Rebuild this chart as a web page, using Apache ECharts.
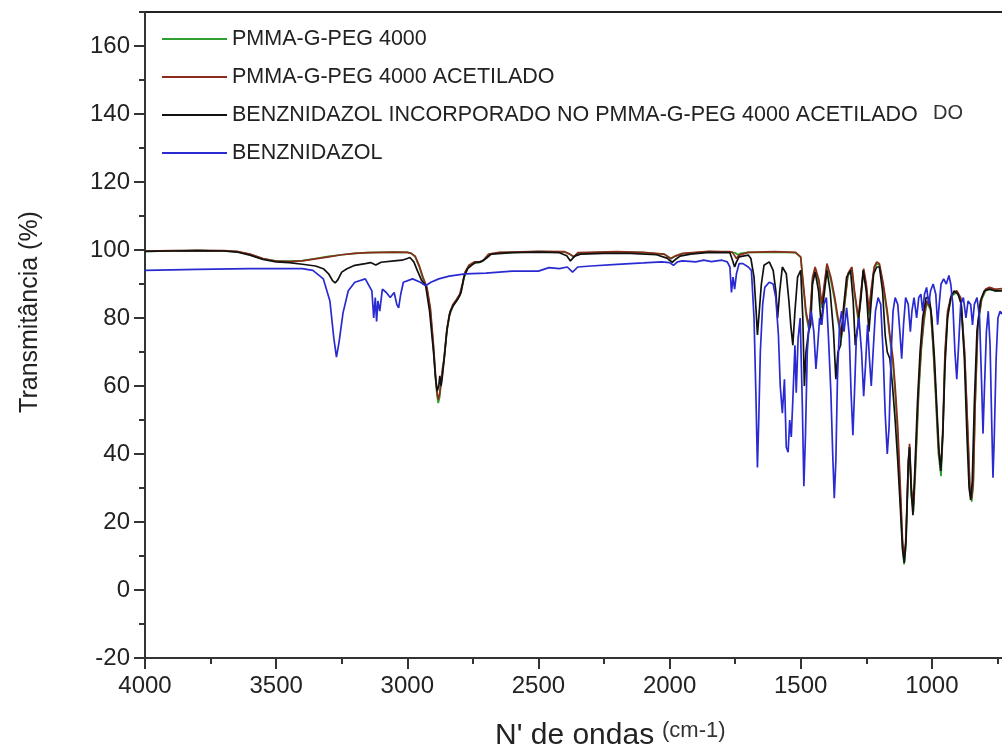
<!DOCTYPE html>
<html><head><meta charset="utf-8">
<script src="https://cdn.jsdelivr.net/npm/echarts@6/dist/echarts.min.js"></script>
<style>html,body{margin:0;padding:0;background:#fff}#c{width:1002px;height:748px}</style>
</head><body><div id="c"></div>
<script>
const seriesNames = ['PMMA-G-PEG 4000','PMMA-G-PEG 4000 ACETILADO','BENZNIDAZOL INCORPORADO NO PMMA-G-PEG 4000 ACETILADO','BENZNIDAZOL'];
const xTicks = [500,1000,1500,2000,2500,3000,3500,4000];
const yTicks = [-20,0,20,40,60,80,100,120,140,160];

const greenWn = [4000,3900,3800,3700,3650,3600,3550,3500,3450,3400,3350,3300,3250,3200,3150,3100,3050,3000,2985,2970,2955,2940,2925,2912,2900,2893,2887,2882,2877,2872,2866,2860,2850,2840,2826,2812,2800,2790,2780,2765,2745,2725,2710,2690,2650,2600,2500,2400,2380,2365,2350,2200,2100,2020,1995,1980,1950,1850,1800,
1770,1750,1740,1730,1700,1600,1520,1500,1490,1480,1470,1465,1455,1445,1430,1420,1410,1400,1385,1370,1360,1345,1335,1320,1305,1295,1280,1270,1260,1250,1240,1232,1220,1210,1200,1185,1170,1160,1148,1140,1130,1120,1112,1106,1100,1090,1085,1078,1070,1062,1050,1040,1030,1020,1005,995,985,975,965,958,950,940,925,905,890,875,862,855,848,842,835,825,810,795,780,760,750,700];
const greenT = [99.6,99.7,99.8,99.7,99.5,98.7,97.4,96.8,96.7,96.9,97.5,98.1,98.6,99,99.2,99.3,99.4,99.3,99,98,95.2,91.5,88.5,82,71,63,57.5,55,56.5,60,64,67.5,75.5,80.5,83.5,85,86.5,89.5,93,95.2,96.3,96.3,96.8,98.6,99.2,99.3,99.5,99.4,98.7,97.9,99.1,99.4,99.2,98.7,97.4,98.1,98.9,99.5,99.4,
99.4,99.2,98.6,99,99.3,99.4,99.2,97.8,89,81,77,79,91,94.5,90,83,89,95.5,91,85,80,74,82,92.5,94.5,87,79,87,94,89,81,87,94.5,96,95.5,89,81,74,66,58,45,27,13,7.5,12,34,42,28,23,36,58,71,79,84.5,82.5,71,56,40,33.5,46,68,81,86.5,87.5,85.5,69,44,29,26,31,54,77,85.5,88,88.5,88,88,88.5];

const brownWn = [4000,3900,3800,3700,3650,3600,3550,3500,3450,3400,3350,3300,3250,3200,3150,3100,3050,3000,2985,2970,2955,2940,2925,2912,2900,2893,2887,2882,2877,2872,2866,2860,2850,2840,2826,2812,2800,2790,2780,2765,2745,2725,2710,2690,2650,2600,2500,2400,2380,2365,2350,2200,2100,2020,1995,1980,1950,1850,1800,
1770,1760,1745,1735,1700,1600,1520,1500,1490,1480,1470,1465,1455,1445,1430,1420,1410,1400,1385,1370,1360,1345,1335,1320,1305,1295,1280,1270,1260,1250,1240,1232,1220,1210,1200,1185,1170,1160,1148,1140,1130,1120,1112,1106,1100,1090,1085,1078,1070,1062,1050,1040,1030,1020,1005,995,985,975,965,958,950,940,925,905,890,875,862,855,848,842,835,825,810,795,780,760,750,700];
const brownT = [99.7,99.8,99.9,99.8,99.6,98.8,97.5,96.7,96.6,96.8,97.4,98,98.6,99,99.2,99.3,99.4,99.3,99,98.2,95.5,92,89,83,72,64,58.5,56,57.5,61,65,68,76,81,84,85.5,87,90,93.5,95.5,96.5,96.5,97,98.8,99.3,99.4,99.6,99.5,98.8,98,99.2,99.5,99.3,98.8,97.5,98.2,99,99.6,99.5,
99.5,99.3,97.5,98.5,99.3,99.5,99.3,98,90,82,78,80,92,95,91,84,90,96,92,86,81,75,83,93,95,88,80,88,94.5,90,82,88,95,96.5,96,90,82,75,68,60,48,30,15,9.5,14,36,43,30,25,38,60,72,80,85,83,72,58,42,36,48,70,82,87,88,86,70,45,30,27,32,55,78,86,88.5,89,88.5,88.5,89];

const blackWn = [4000,3900,3800,3700,3650,3600,3550,3500,3450,3400,3350,3320,3300,3285,3275,3265,3250,3230,3200,3160,3140,3120,3100,3050,3020,3000,2990,2975,2962,2945,2930,2915,2900,2892,2886,2880,2876,2871,2866,2858,2848,2836,2822,2808,2795,2784,2770,2755,2740,2720,2700,2680,2640,2600,2500,2420,2392,2378,2362,2340,2250,2150,2050,2010,1990,1978,1960,1920,1850,1800,
1770,1760,1752,1745,1735,1700,1690,1678,1670,1665,1660,1650,1640,1620,1605,1595,1588,1580,1570,1555,1545,1538,1530,1522,1512,1500,1492,1486,1480,1470,1462,1455,1445,1432,1422,1412,1400,1388,1375,1366,1358,1348,1338,1325,1310,1300,1292,1282,1270,1262,1250,1240,1232,1222,1210,1200,1188,1178,1170,1160,1150,1140,1130,1120,1112,1105,1098,1090,1085,1078,1072,1065,1055,1045,1035,1022,1010,1000,990,980,972,966,958,950,940,928,915,900,888,876,866,858,852,846,838,828,815,800,780,760,745,700];
const blackT = [99.6,99.7,99.8,99.7,99.4,98.5,97.2,96.5,96.3,95.8,95.3,94.5,93,91,90.3,91.2,93.5,94.5,95.5,96,96.3,95.6,96.4,96.8,97,97.5,97.8,96.5,94,91,89.5,82,70,62,58.5,60,63,60,63,69,77,82,84,85.5,87.5,92,94.5,95.5,96.3,96.5,97.5,98.8,99,99.2,99.4,99.2,98.3,96.8,98.2,98.8,99,99,98.6,97.6,96.4,97.2,98.2,98.8,99.3,99.2,
99.2,97,95,96.5,98,98.5,97.5,92,82,75,80,90,95.5,96.5,94,88,80,88,95,93,85,78,72,82,92,94,80,60,70,76,78,90,93.5,88,78,86,94,88,76,62,70,72,82,92,94,85,72,78,86,94,88,76,84,93,95,95,88,75,70,68,60,50,38,24,12,8,15,38,42,28,22,35,55,70,80,86,86,80,68,52,40,35,46,66,80,86,88,87,84,68,45,30,26.5,32,55,76,85,88,88.5,88,88,88];

const blueWn = [4000,3800,3600,3400,3360,3320,3295,3280,3270,3260,3245,3225,3200,3160,3135,3128,3122,3117,3112,3105,3095,3080,3065,3050,3040,3033,3025,3015,2980,2950,2930,2910,2880,2840,2780,2700,2600,2500,2460,2420,2390,2370,2350,2300,2200,2100,2030,2000,1985,1970,1950,1900,1870,1840,1800,
1780,1770,1764,1758,1752,1745,1735,1720,1700,1688,1678,1671,1665,1660,1654,1645,1637,1620,1605,1595,1585,1578,1570,1562,1555,1548,1542,1536,1530,1522,1517,1510,1502,1494,1488,1482,1475,1468,1460,1450,1442,1435,1428,1420,1412,1402,1394,1385,1378,1372,1366,1360,1352,1344,1335,1325,1315,1308,1301,1295,1288,1278,1268,1260,1253,1245,1238,1231,1224,1215,1205,1195,1186,1178,1170,1163,1155,1148,1140,1130,1122,1115,1108,1100,1090,1082,1076,1068,1058,1050,1042,1035,1028,1020,1012,1005,995,985,978,972,965,955,945,935,928,920,912,905,898,890,880,870,862,852,845,838,828,818,810,805,800,792,785,778,772,767,762,755,748,740,720];
const blueT = [94,94.3,94.5,94.5,94,91.5,85,74,68.5,73,81.5,88,90.5,91.5,88,80,86,79,85,82,88.5,87.5,86,87.5,84,83,87,90.5,91.5,90.5,89.5,90.5,91.5,92.3,93,93.2,93.8,93.8,94.8,94.5,95,93.5,95,95.3,95.8,96.2,96.5,96.3,95.5,96.5,96.8,96.5,97,96.6,97,
96.5,95,87.5,92,88.5,93,96,96,95,94,80,58,36,50,70,84,89,90.5,90,86,75,60,52,62,42,40.5,50,45,56,72,58,74,80,55,30.5,45,70,78,82,76,65,72,80,78,84,86,74,58,40,27,38,62,78,82,76,83,75,58,45.5,58,74,80,70,57,66,78,68,60,70,82,86,84,70,52,40,48,70,82,86,84,76,68,78,86,84,76,82,86,80,86,87,82,87,89,84,88,90,87,78,84,90,91.5,90,92.5,90,84,70,62,72,84,86,80,85,84,78,84,86,80,60,46,58,76,82,72,50,33,45,68,80,82,80];

function pairs(wn, t) { return wn.map((w, i) => [w, t[i]]); }

const FF = 'Arial, "Liberation Sans", Helvetica, sans-serif';
const colors = ['#2fa02f', '#8a2b1c', '#111111', '#2a2ad2'];
const chart = echarts.init(document.getElementById('c'), null, {renderer: 'canvas'});
const yMax = 170;

const option = {
  animation: false,
  backgroundColor: '#ffffff',
  color: colors,
  grid: {left: 145, top: 12, width: 918, height: 646, containLabel: false, outerBoundsMode: 'none',
         show: true, borderColor: '#222', borderWidth: 2, backgroundColor: 'transparent'},
  legend: {
    orient: 'vertical', left: 157, top: 23, itemWidth: 65, itemHeight: 2, itemGap: 16,
    icon: 'rect',
    selectedMode: false,
    data: seriesNames,
    textStyle: {fontSize: 21.5, color: '#222', fontFamily: FF}
  },
  xAxis: {
    type: 'value', inverse: true, min: xTicks[0], max: xTicks[xTicks.length - 1], interval: 500,
    axisLine: {show: true, onZero: false, lineStyle: {color: '#333', width: 2}},
    axisTick: {show: true, inside: false, length: 11, lineStyle: {color: '#333', width: 2}},
    minorTick: {show: true, splitNumber: 2, length: 6, lineStyle: {color: '#333', width: 2}},
    splitLine: {show: false},
    axisLabel: {fontSize: 24, color: '#222', fontFamily: FF, margin: 16, formatter: v => String(v)}
  },
  yAxis: [{
    type: 'value', min: yTicks[0], max: yMax, interval: 20,
    axisLine: {show: true, onZero: false, lineStyle: {color: '#333', width: 2}},
    axisTick: {show: true, inside: false, length: 11, lineStyle: {color: '#333', width: 2}},
    minorTick: {show: false},
    splitLine: {show: false},
    axisLabel: {fontSize: 24, color: '#222', fontFamily: FF, margin: 15, showMaxLabel: false, formatter: v => String(v)}
  }, {
    type: 'value', min: yTicks[0], max: yMax, interval: 10, position: 'left', offset: 0,
    axisLine: {show: false},
    axisTick: {show: true, inside: false, length: 6, lineStyle: {color: '#333', width: 2}},
    axisLabel: {show: false},
    splitLine: {show: false}
  }],
  series: [
    {name: seriesNames[0], type: 'line', data: pairs(greenWn, greenT)},
    {name: seriesNames[1], type: 'line', data: pairs(brownWn, brownT)},
    {name: seriesNames[2], type: 'line', data: pairs(blackWn, blackT)},
    {name: seriesNames[3], type: 'line', data: pairs(blueWn, blueT)}
  ].map((s, i) => Object.assign(s, {yAxisIndex: 0, symbol: 'none', showSymbol: false, smooth: false, clip: true,
      lineStyle: {width: 1.7, color: colors[i]}, itemStyle: {color: colors[i]}})),
  graphic: [
    {type: 'text', x: 30, y: 312, rotation: Math.PI / 2,
     style: {text: 'Transmitância (%)', fontSize: 25, fontFamily: FF, fill: '#222', textAlign: 'center', textVerticalAlign: 'middle'}},
    {type: 'text', x: 495, y: 736,
     style: {text: "N' de ondas", fontSize: 30, fontFamily: FF, fill: '#222', textAlign: 'left', textVerticalAlign: 'middle'}},
    {type: 'text', x: 662, y: 731,
     style: {text: '(cm-1)', fontSize: 22, fontFamily: FF, fill: '#333', textAlign: 'left', textVerticalAlign: 'middle'}},
    {type: 'text', x: 933, y: 113,
     style: {text: 'DO', fontSize: 20, fontFamily: FF, fill: '#333', textAlign: 'left', textVerticalAlign: 'middle'}}
  ]
};
chart.setOption(option);
</script>
</body></html>
